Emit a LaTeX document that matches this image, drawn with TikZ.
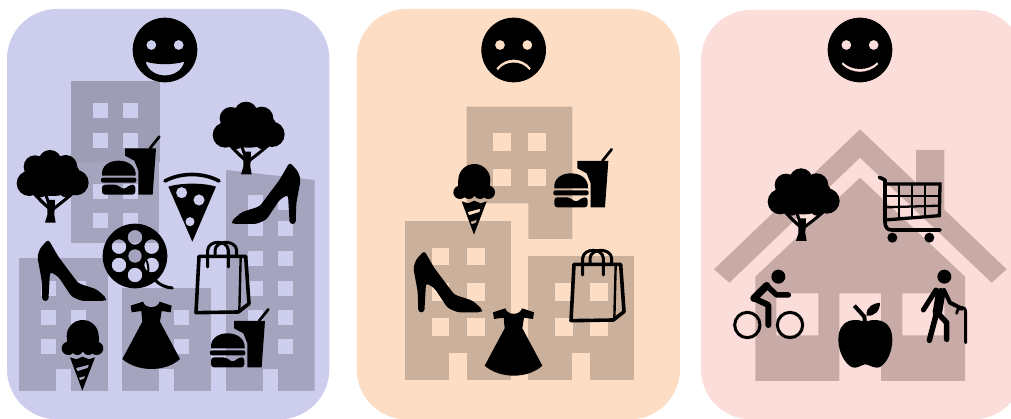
\documentclass[tikz,border=0pt]{standalone}
\usepackage{xcolor}
\usepackage{tikz}
\definecolor{panelblue}{RGB}{205, 205, 238}
\definecolor{panelorange}{RGB}{253, 222, 197}
\definecolor{panelpink}{RGB}{251, 221, 217}
\definecolor{towerblue}{RGB}{164, 164, 190}
\definecolor{towerorange}{RGB}{203, 176, 155}
\definecolor{towerpink}{RGB}{200, 170, 166}

\tikzset{
    icon/.style={scale=1/3},
    panelbox/.style={rounded corners=50pt},
    strokeicon/.style={line cap=round, line join=round},
    pics/tree/.style={code={
        \fill (38,100) circle (38) (55,50) circle (34) (100,35) circle (35) (147,50) circle (35)
              (178,98) circle (38) (108,80) ellipse (85 and 58) (72,122) circle (20) (148,122) circle (20);
        \fill (85,218) -- (117,218) -- (113,195) -- (115,150) -- (92,150) -- (92,195) -- cycle;
        \draw[strokeicon, line width=3.2pt] (102,178) .. controls (85,165) and (70,150) .. (52,130);
        \draw[strokeicon, line width=3pt] (100,170) -- (84,125);
        \draw[strokeicon, line width=3pt] (106,180) .. controls (125,165) and (145,150) .. (168,130);
    }},
    pics/burger/.style={code={
        \fill (72,38) -- (165,38) -- (155,177) -- (112,177) -- (112,105) -- (100,75) -- (72,60) -- cycle;
        \draw[strokeicon, line width=2.7pt] (147,38) -- (175,3);
        \fill (3,120) .. controls (0,90) and (25,75) .. (53,75) .. controls (80,75) and (106,90) .. (104,120) -- cycle;
        \fill[rounded corners=2pt] (0,126) rectangle (106,141);
        \fill[rounded corners=3pt] (3,147) -- (48,147) -- (68,162) -- (88,147) -- (103,147) -- (103,177) -- (3,177) -- cycle;
    }},
    pics/pizza/.style={code={
        \draw[strokeicon, line width=3.6pt] (3,23) .. controls (50,-3) and (118,-3) .. (165,23);
        \fill[even odd rule] (13,40) .. controls (50,28) and (120,28) .. (156,40) -- (85,205) -- cycle
              (53,58) circle (17) (105,80) circle (17) (78,145) circle (14);
    }},
    pics/reel/.style={code={
        \fill[even odd rule] (0,0) circle (97) (0,-56) circle (22) (-48,-28) circle (22) (-48,27) circle (22)
              (0,57) circle (22) (50,-28) circle (22) (50,27) circle (22);
        \fill[towerblue] (0,0) circle (20);
        \draw[strokeicon, line width=2pt] (33,10) .. controls (42,30) and (42,45) .. (36,62);
        \draw[strokeicon, line width=3pt] (60,72) .. controls (75,88) and (95,95) .. (112,96);
    }},
    pics/shoe/.style={code={
        \fill[rounded corners=3pt] (33,0) -- (63,52) -- (123,132) -- (178,150) -- (208,177) -- (203,185)
              -- (133,185) -- (103,172) -- (63,112) -- (38,97) -- (33,185) -- (15,185) -- (13,122)
              -- (0,52) -- (8,27) -- cycle;
    }},
    pics/bag/.style={code={
        \draw[strokeicon, line width=3.6pt] (12,53) -- (152,53) -- (162,195) -- (130,220) -- (3,222) -- cycle;
        \draw[strokeicon, line width=2.4pt] (137,56) -- (133,218);
        \draw[strokeicon, line width=3pt] (38,85) -- (38,35) .. controls (40,3) and (98,3) .. (100,35) -- (100,85);
        \draw[strokeicon, line width=3pt] (60,50) -- (60,35) .. controls (62,3) and (123,3) .. (125,35) -- (125,53);
    }},
    pics/dress/.style={code={
        \fill (28,32) -- (25,12) -- (62,0) .. controls (68,22) and (106,22) .. (112,0) -- (148,12) -- (145,32)
              -- (118,28) -- (113,60) -- (173,172) .. controls (130,212) and (45,212) .. (0,172)
              -- (60,60) -- (57,28) -- cycle;
    }},
    pics/icecream/.style={code={
        \fill (63,48) circle (48) (20,85) circle (20) (47,86) circle (19) (80,86) circle (19) (105,85) circle (20);
        \fill (15,48) rectangle (111,85);
        \fill[even odd rule] (25,112) -- (44,118) -- (63,110) -- (82,118) -- (100,112) -- (62,212) -- cycle
              (43,144) -- (82,134) -- (78,144) -- (47,154) -- cycle
              (52,173) -- (70,168) -- (68,176) -- (55,181) -- cycle;
    }},
    pics/cart/.style={code={
        \draw[strokeicon, line width=3.6pt] (5,7) -- (22,15) -- (22,140) .. controls (22,158) and (30,165) .. (42,165) -- (187,165);
        \draw[line width=3.3pt] (22,27) -- (187,27) -- (185,122) -- (22,135);
        \foreach \gx/\gy in {64/132, 102/129, 142/126}
            \draw[line width=2.3pt] (\gx,27) -- (\gx,\gy);
        \draw[line width=2.3pt] (22,62) -- (187,62);
        \draw[line width=2.3pt] (22,97) -- (187,92);
        \fill (44,188) circle (15) (155,188) circle (15);
    }},
    pics/cyclist/.style={code={
        \draw[line width=3pt] (42,165) circle (38) (170,165) circle (38);
        \fill (135,20) circle (21);
        \draw[strokeicon, line width=7.5pt] (100,47) -- (62,85);
        \draw[strokeicon, line width=5.5pt] (100,47) -- (130,75) -- (165,75);
        \draw[strokeicon, line width=6pt] (62,85) -- (105,105) -- (105,165);
    }},
    pics/walker/.style={code={
        \fill (73,22) circle (21);
        \draw[strokeicon, line width=9.5pt] (62,70) -- (52,130);
        \draw[strokeicon, line width=5.5pt] (50,130) -- (28,213);
        \draw[strokeicon, line width=5.5pt] (52,130) -- (80,160) -- (80,210);
        \draw[strokeicon, line width=5pt] (48,62) -- (10,122);
        \draw[strokeicon, line width=4pt] (72,62) -- (90,100) -- (125,118);
        \draw[strokeicon, line width=2.9pt] (110,132) .. controls (112,112) and (137,105) .. (137,130) -- (137,220);
    }},
    pics/apple/.style={code={
        \fill (80,62) .. controls (60,50) and (0,45) .. (0,115) .. controls (0,160) and (30,200) .. (50,198)
              .. controls (65,197) and (70,188) .. (80,188) .. controls (90,188) and (100,197) .. (115,198)
              .. controls (135,200) and (162,160) .. (162,115) .. controls (162,45) and (100,50) .. (80,62);
        \draw[line width=4pt] (48,12) -- (78,45) -- (80,65);
        \fill (85,42) .. controls (82,15) and (105,5) .. (125,3) .. controls (125,28) and (108,45) .. (85,42);
    }},
    pics/smile/.style={code={
        \fill[even odd rule] (0,0) circle (97) (-41,-15) circle (15) (41,-15) circle (15)
              (-58,35) .. controls (-25,45) and (25,45) .. (58,35) .. controls (45,90) and (-45,90) .. (-58,35);
    }},
    pics/frown/.style={code={
        \fill[even odd rule] (0,0) circle (97) (-41,-15) circle (15) (41,-15) circle (15)
              (-52,55) .. controls (-25,20) and (25,20) .. (52,55) -- (47,61) .. controls (25,30) and (-25,30) .. (-47,61) -- cycle;
    }},
    pics/grin/.style={code={
        \fill[even odd rule] (0,0) circle (97) (-41,-15) circle (15) (41,-15) circle (15)
              (-52,36) .. controls (-25,64) and (25,64) .. (52,36) -- (55,43) .. controls (25,73) and (-25,73) .. (-55,43) -- cycle;
    }}
}

\begin{document}
\begin{tikzpicture}[x=1pt, y=-1pt]
\useasboundingbox (0,0) rectangle (1011,419);
\clip (0,0) rectangle (1011,419);

% first panel
\begin{scope}[scale=1/3]
\fill[panelblue, panelbox] (21,27) rectangle (988,1258);
\fill[towerblue] (213,487) rectangle (478,730);
\fill[towerblue!96!black] (213,243) rectangle (480,487);
\fill[towerblue] (57,775) rectangle (323,1173);
\fill[towerblue] (367,863) rectangle (633,1173);
\fill[towerblue] (678,510) -- (944,540) -- (944,1173) -- (678,1173) -- cycle;
\foreach \wx in {280,368}
    \foreach \wy in {310,398,553,640}
        \fill[panelblue] (\wx,\wy) rectangle +(45,45);
\foreach \wx in {123,212}
    \foreach \wy in {842,930,1018}
        \fill[panelblue] (\wx,\wy) rectangle +(45,45);
\foreach \wx in {433,523}
    \foreach \wy in {930,1018}
        \fill[panelblue] (\wx,\wy) rectangle +(45,45);
\foreach \wx in {745,834}
    \foreach \wy in {586,664,752,842,930,1018}
        \fill[panelblue] (\wx,\wy) rectangle +(45,45);
\fill[panelblue] (168,1107) rectangle (212,1173);
\fill[panelblue] (478,1107) rectangle (523,1173);
\fill[panelblue] (790,1107) rectangle (834,1173);
\pic[icon] at (495,150) {smile};
\pic[icon] at (50,450) {tree};
\pic[icon] at (638,305) {tree};
\pic[icon] at (303,407) {burger};
\pic[icon] at (630,925) {burger};
\pic[icon] at (492,520) {pizza};
\pic[icon] at (405,768) {reel};
\pic[icon] at (112,718) {shoe};
\pic[icon, xscale=-1] at (902,487) {shoe};
\pic[icon] at (585,716) {bag};
\pic[icon] at (367,905) {dress};
\pic[icon] at (185,960) {icecream};
\end{scope}

% second panel
\begin{scope}[xshift=350pt, scale=1/3]
\fill[panelorange, panelbox] (20,27) rectangle (990,1258);
\fill[towerorange] (350,320) -- (667,320) -- (667,717) -- (535,717) -- (535,610) -- (350,610) -- cycle;
\fill[towerorange] (165,663) rectangle (483,1139);
\fill[towerorange] (535,769) rectangle (852,1139);
\foreach \wx in {430,535}
    \foreach \wy in {400,506}
        \fill[panelorange] (\wx,\wy) rectangle +(53,53);
\foreach \wx in {245,351}
    \foreach \wy in {743,849,955}
        \fill[panelorange] (\wx,\wy) rectangle +(53,53);
\foreach \wx in {615,720}
    \foreach \wy in {849,955}
        \fill[panelorange] (\wx,\wy) rectangle +(53,53);
\fill[panelorange] (297,1060) rectangle (351,1139);
\fill[panelorange] (667,1060) rectangle (720,1139);
\pic[icon] at (491,150) {frown};
\pic[icon] at (310,492) {icecream};
\pic[icon] at (610,445) {burger};
\pic[icon] at (190,752) {shoe};
\pic[icon] at (404,925) {dress};
\pic[icon] at (660,740) {bag};
\end{scope}

% third panel
\begin{scope}[xshift=695pt, scale=1/3]
\fill[panelpink, panelbox] (18,30) rectangle (985,1258);
\fill[towerpink, even odd rule] (181,1143) -- (181,830) -- (495,533) -- (810,830) -- (810,1143) -- (558,1143)
    -- (558,880) -- (433,880) -- (433,1143) -- cycle
    (244,880) rectangle (370,1006) (622,880) rectangle (748,1006);
\fill[towerpink] (57,808) -- (495,388) -- (663,548) -- (663,450) -- (748,450) -- (748,629) -- (935,808)
    -- (890,848) -- (495,473) -- (103,848) -- cycle;
\pic[icon] at (495,150) {grin};
\pic[icon] at (218,505) {tree};
\pic[icon] at (548,525) {cart};
\pic[icon] at (115,810) {cyclist};
\pic[icon] at (430,905) {apple};
\pic[icon] at (675,808) {walker};
\end{scope}

\end{tikzpicture}
\end{document}
